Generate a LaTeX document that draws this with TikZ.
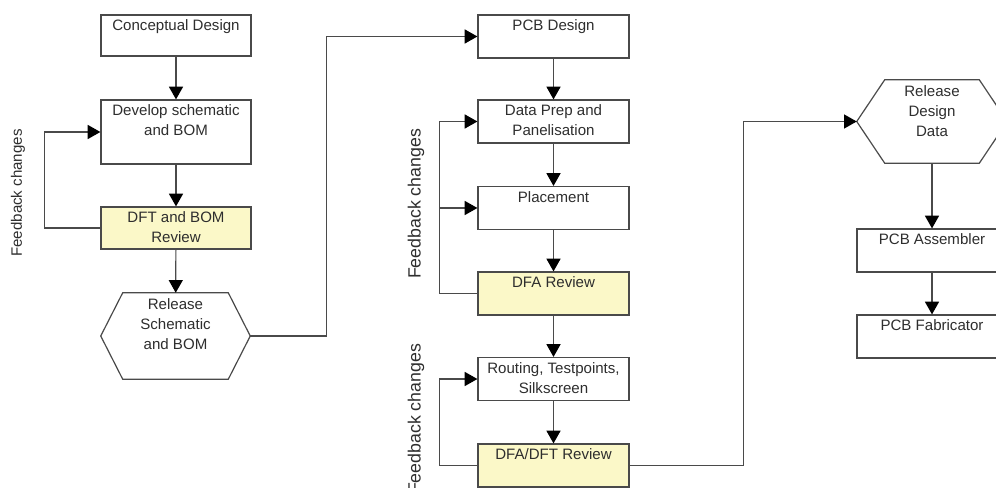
\documentclass[tikz,border=0pt]{standalone}
\usepackage{fontspec}
\setmainfont{Liberation Sans}
\usetikzlibrary{arrows.meta,calc}

\definecolor{linec}{HTML}{4A4A4A}
\definecolor{revfill}{HTML}{FBF8C8}
\definecolor{txtc}{HTML}{2E2E2E}

\tikzset{
  line/.style={draw=linec, line width=0.9pt},
  flow/.style={line, -{Triangle[length=9.5pt,width=10.5pt,color=black]}},
  captxt/.style={anchor=north, yshift=-4pt, align=center, inner sep=0pt,
    font=\fontsize{11.3}{15}\selectfont, text=txtc},
  caption/.style={label={[captxt]north:{#1}}},
  box/.style={rectangle, draw=linec, line width=0.9pt, fill=white, inner sep=0pt,
    minimum width={150*0.75pt}, minimum height={43*0.75pt}},
  midbox/.style={box, minimum width={151*0.75pt}},
  review/.style={midbox, fill=revfill},
  hexnode/.style={rectangle, inner sep=0pt},
  fbtext/.style={rotate=90, inner sep=0pt, font=\fontsize{11.3}{14}\selectfont, text=txtc},
  fbbig/.style={fbtext, font=\fontsize{13.3}{16}\selectfont},
}

% hexagon outline around a named node: #1 node, #2 horizontal inset of the points
\newcommand\hexoutline[2]{%
  \draw[line] (#1.west) -- ($(#1.north west)+(#2,0)$) -- ($(#1.north east)+(-#2,0)$)
    -- (#1.east) -- ($(#1.south east)+(-#2,0)$) -- ($(#1.south west)+(#2,0)$) -- cycle;}

\begin{document}
\begin{tikzpicture}[x=0.75pt,y=-0.75pt]
  \useasboundingbox (0,0) rectangle (996,488);
  \clip (0,0) rectangle (996,488);
  \fill[white] (0,0) rectangle (996,488);

  % schematic stage
  \node[box, minimum height={41*0.75pt}, caption={Conceptual Design}] (cd) at (176,35.5) {};
  \node[box, minimum height={64*0.75pt}, caption={Develop schematic\\and BOM}] (dev) at (176,132) {};
  \node[box, fill=revfill, minimum height={42*0.75pt}, caption={DFT and BOM\\Review}] (dft) at (176,228) {};
  \node[hexnode, minimum width={149*0.75pt}, minimum height={86*0.75pt},
        caption={Release\\Schematic\\and BOM}] (rs) at (175.5,336) {};
  \hexoutline{rs}{22}
  \node[fbtext] (fb1) at (18,193) {Feedback changes};

  % layout stage
  \node[midbox, caption={PCB Design}] (pcb) at (553.5,36.5) {};
  \node[midbox, caption={Data Prep and\\Panelisation}] (dp) at (553.5,121.5) {};
  \node[midbox, caption={Placement}] (pl) at (553.5,208) {};
  \node[review, caption={DFA Review}] (dfa) at (553.5,293.5) {};
  \node[midbox, caption={Routing, Testpoints,\\Silkscreen}] (rt) at (553.5,379) {};
  \node[review, caption={DFA/DFT Review}] (dd) at (553.5,465.5) {};
  \node[fbbig] (fb2) at (416,204) {Feedback changes};
  \node[fbbig] (fb3) at (416,419) {Feedback changes};

  % release stage
  \node[hexnode, minimum width={150*0.75pt}, minimum height={83*0.75pt},
        caption={Release\\Design\\Data}] (rd) at (932,121.5) {};
  \hexoutline{rd}{28}
  \node[box, caption={PCB Assembler}] (pa) at (932,250.5) {};
  \node[box, caption={PCB Fabricator}] (pf) at (932,336.5) {};

  % forward flow
  \draw[flow] (cd) -- (dev);
  \draw[flow] (dev) -- (dft);
  \draw[flow] (dft) -- (rs);
  \draw[flow] (rs.east) -- ++(76,0) |- (pcb.west);
  \draw[flow] (pcb) -- (dp);
  \draw[flow] (dp) -- (pl);
  \draw[flow] (pl) -- (dfa);
  \draw[flow] (dfa) -- (rt);
  \draw[flow] (rt) -- (dd);
  \draw[flow] (dd.east) -- ++(114,0) |- (rd.west);
  \draw[flow] (rd) -- (pa);
  \draw[flow] (pa) -- (pf);

  % feedback loops
  \draw[flow] (dft.west) -- ++(-56,0) |- (dev.west);
  \draw[flow] (dfa.west) -- ++(-38,0) coordinate (fbx) |- (dp.west);
  \draw[flow] (fbx |- pl.west) -- (pl.west);
  \draw[flow] (dd.west) -- ++(-38,0) |- (rt.west);
\end{tikzpicture}
\end{document}
